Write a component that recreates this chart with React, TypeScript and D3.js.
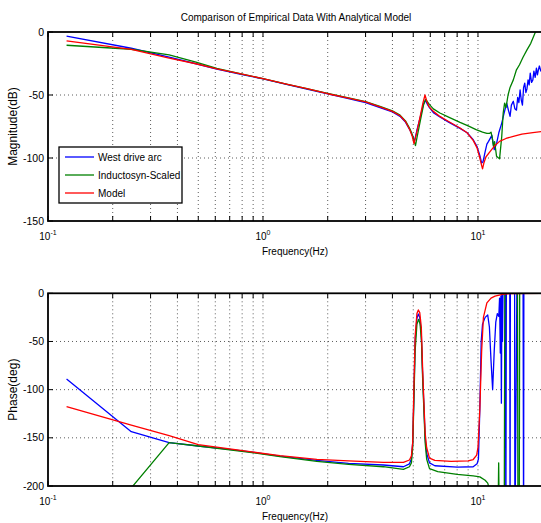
import * as d3 from 'd3';
import React, { useRef, useEffect } from 'react';

// magnitude (dB) vs frequency (Hz)
const magFreqWest = [0.122, 0.244, 0.366, 0.488, 0.61, 0.8, 1.0, 1.3, 1.6, 2.0, 2.5, 3.0, 3.5, 4.0, 4.34, 4.6, 4.83, 4.95, 5.06, 5.2, 5.4, 5.58, 5.7, 5.8, 5.95, 6.2, 6.65, 7.3, 8.25, 8.9, 9.5, 9.9, 10.2, 10.4, 10.55, 10.8, 11.0, 11.2, 11.6, 11.9, 12.2, 12.5, 12.9, 13.2, 13.6, 13.85, 14.1, 14.3, 14.6, 14.85, 15.1, 15.3, 15.5, 15.7, 15.9, 16.1, 16.3, 16.5, 16.7, 16.9, 17.1, 17.3, 17.5, 17.75, 18.0, 18.2, 18.45, 18.7, 18.9, 19.1, 19.3, 19.6, 20];
const magWest = [-3.2, -12.9, -20, -25.2, -29.5, -33.8, -37.2, -41.8, -45.3, -49.2, -52.8, -56, -60, -63.5, -67, -71.5, -78, -82, -87, -78, -67, -57, -54.3, -57, -60, -64, -67.5, -71.5, -76.5, -80, -85.5, -91, -98, -104, -103, -95, -89, -86.8, -82, -93.4, -88.6, -80, -72.3, -65, -56.4, -62, -67, -58, -55, -61, -62, -52, -56, -46, -54, -58, -44, -40.6, -48, -45, -38, -42, -32.7, -40, -38, -31, -36, -28.7, -34, -30, -27, -31, -28];

const magFreqInd = [0.122, 0.244, 0.366, 0.488, 0.61, 0.8, 1.0, 1.3, 1.6, 2.0, 2.5, 3.0, 3.5, 4.0, 4.34, 4.6, 4.83, 4.98, 5.12, 5.2, 5.4, 5.58, 5.7, 5.8, 5.95, 6.2, 6.65, 7.3, 8.25, 9.0, 9.8, 10.5, 11.0, 11.3, 11.5, 11.65, 11.8, 11.95, 12.2, 12.6, 12.9, 13.1, 13.3, 13.5, 13.8, 14.1, 14.6, 15.1, 15.6, 16.2, 16.9, 17.6, 18.4, 19.0, 20];
const magInd = [-10.5, -13.7, -18.2, -24, -28.8, -33.5, -37, -41.5, -45, -48.8, -52.2, -55.3, -59, -62.5, -66, -70.5, -77, -83, -90.2, -84, -70, -58, -53.6, -55, -57.6, -61, -64.3, -67.5, -71.7, -74.5, -77.5, -79.5, -80.5, -80.5, -79.5, -84, -90.7, -87, -98.6, -100.7, -82.8, -64.3, -56.4, -60, -50, -44, -38, -30, -26, -20, -14.2, -9, -1, 3, 10];

const magFreqModel = [0.122, 0.244, 0.366, 0.488, 0.61, 0.8, 1.0, 1.3, 1.6, 2.0, 2.5, 3.0, 3.5, 4.0, 4.34, 4.6, 4.83, 4.95, 5.04, 5.2, 5.4, 5.55, 5.67, 5.78, 5.9, 6.2, 6.65, 7.3, 8.25, 8.9, 9.5, 9.9, 10.2, 10.4, 10.5, 10.65, 10.9, 11.4, 12.0, 12.6, 13.5, 14.6, 16.0, 18.0, 20.0];
const magModel = [-7.1, -13.8, -20.8, -25.2, -29.3, -33.5, -37, -41.5, -45, -49, -52.5, -55.5, -59.5, -63, -66.5, -71, -78, -83, -88.6, -79, -66, -56, -50, -55, -59, -63, -67, -71, -76.2, -80, -86, -92, -100, -106, -108.6, -104, -99, -94.7, -90, -86.8, -84.5, -82.8, -81, -79.8, -79];

// phase (deg) vs frequency (Hz)
const phFreqWest = [0.122, 0.244, 0.366, 0.5, 0.7, 0.87, 1.2, 1.78, 2.5, 3.63, 4.5, 4.8, 4.9, 4.97, 5.03, 5.1, 5.2, 5.28, 5.36, 5.45, 5.53, 5.6, 5.68, 5.77, 5.95, 6.3, 8.0, 9.5, 9.9, 10.05, 10.2, 10.35, 10.5, 10.8, 11.1, 11.3, 11.5, 11.7, 11.9, 12.1, 12.3, 12.5, 12.6, 12.7, 12.78, 12.85, 12.92, 13.0, 13.08, 13.2, 13.4, 13.48, 13.56, 13.7, 14.05, 14.1, 14.15, 14.6, 14.8, 14.85, 15.2, 16.2, 16.3, 16.35, 20];
const phWest = [-89, -143.6, -155, -158.5, -162, -164.5, -169, -173.5, -176.5, -178.2, -180, -177, -172, -155, -110, -50, -26, -21.5, -25, -42, -85, -115, -150, -166, -176, -179, -180.5, -180, -177, -172, -120, -50, -32, -25, -22.5, -35, -70, -100, -60, -30, -21, -24, -5, -62, -3, -114, 0, -50, 5, 20, 30, -250, 40, 30, 30, -260, 30, 30, 25, -260, 30, 30, -260, 30, 35];

const phFreqInd = [0.122, 0.244, 0.366, 0.5, 0.7, 0.87, 1.2, 1.78, 2.5, 3.63, 4.5, 4.8, 4.9, 4.97, 5.03, 5.1, 5.2, 5.3, 5.38, 5.46, 5.53, 5.6, 5.68, 5.77, 5.95, 6.5, 8.0, 9.5, 10.2, 10.8, 11.1, 11.3, 11.5, 12.4, 12.48, 12.56, 13.25, 13.35, 15.25, 15.35, 15.55, 15.65, 20];
const phInd = [-300, -202, -155, -158.5, -162.5, -165, -169.5, -174.5, -177.5, -180, -182.7, -180, -176, -160, -115, -60, -32, -27, -32, -50, -90, -120, -155, -172, -182, -185, -188, -189.5, -190.5, -194, -197, -203, -215, -230, -176, -230, -230, 60, 60, -250, -250, 60, 60];

const phFreqModel = [0.122, 0.244, 0.366, 0.5, 0.7, 0.87, 1.2, 1.78, 2.5, 3.63, 4.5, 4.8, 4.9, 4.97, 5.02, 5.1, 5.2, 5.28, 5.36, 5.45, 5.53, 5.6, 5.68, 5.77, 5.95, 6.3, 7.5, 9.0, 9.5, 9.86, 10.0, 10.2, 10.4, 10.6, 11.0, 11.5, 12.0, 13.0, 14.0, 20];
const phModel = [-117.7, -136.7, -147.8, -157, -161.5, -164.4, -168.5, -172.3, -174, -175.4, -175.5, -173, -169, -155, -110, -45, -21, -17.3, -20, -35, -80, -112, -145, -160, -171, -173.5, -174.5, -174, -172.5, -168, -160, -120, -60, -25, -10, -5, -3, -1.2, -0.4, 0];

const seriesNames = ['West drive arc', 'Inductosyn-Scaled', 'Model'];
const seriesColors = ['#0000ff', '#008000', '#ff0000'];
const magTicks = [0, -50, -100, -150];
const phTicks = [0, -50, -100, -150, -200];
const decadeTicks = [0.1, 1, 10];
const decadeLabels = ['-1', '0', '1'];

const FONT = '"Liberation Sans", Arial, Helvetica, sans-serif';

function Bode() {
    const ref = useRef<SVGSVGElement>(null);

    useEffect(() => {
        const svg = d3.select(ref.current);
        svg.selectAll('*').remove();

        const x = d3.scaleLog().domain([0.1, 20]).range([48, 542.7]);
        const yMag = d3.scaleLinear().domain([-150, 0]).range([221, 32]);
        const yPh = d3.scaleLinear().domain([-200, 0]).range([486, 293.3]);

        // every minor/major log tick inside the domain
        const xTicks: number[] = [];
        decadeTicks.forEach(d => {
            for (let k = 1; k <= 9; k++) {
                const v = d * k;
                if (v <= 20.0001) xTicks.push(v);
            }
        });

        const zip = (f: number[], v: number[]) => f.map((d, i) => [d, v[i]]);

        const panel = (y: any, yTicks: number[], ylabel: string, data: number[][][], id: string) => {
            const [yb, yt] = y.range();
            const [xl, xr] = x.range();
            const g = svg.append('g');

            g.append('clipPath').attr('id', id)
                .append('rect').attr('x', xl).attr('y', yt).attr('width', xr - xl).attr('height', yb - yt);

            // grid
            g.selectAll('.gx').data(xTicks.filter(v => v > 0.1))
                .enter().append('line')
                .attr('x1', d => x(d)).attr('x2', d => x(d))
                .attr('y1', yt).attr('y2', yb)
                .attr('stroke', '#333').attr('stroke-width', 0.8).attr('stroke-dasharray', '1,3');
            g.selectAll('.gy').data(yTicks.slice(1, -1))
                .enter().append('line')
                .attr('x1', xl).attr('x2', xr)
                .attr('y1', d => y(d)).attr('y2', d => y(d))
                .attr('stroke', '#333').attr('stroke-width', 0.8).attr('stroke-dasharray', '1,3');

            // curves
            const line = d3.line<number[]>().x(d => x(d[0])).y(d => y(d[1]));
            g.append('g').attr('clip-path', `url(#${id})`)
                .selectAll('path').data(data)
                .enter().append('path')
                .attr('d', d => line(d))
                .attr('fill', 'none')
                .attr('stroke', (d, i) => seriesColors[i])
                .attr('stroke-width', 1.3)
                .attr('stroke-linejoin', 'round');

            // frame + inward ticks
            g.append('rect').attr('x', xl).attr('y', yt).attr('width', xr - xl).attr('height', yb - yt)
                .attr('fill', 'none').attr('stroke', '#000').attr('stroke-width', 1.8);
            xTicks.forEach(v => {
                g.append('line').attr('x1', x(v)).attr('x2', x(v)).attr('y1', yb).attr('y2', yb - 5).attr('stroke', '#000');
                g.append('line').attr('x1', x(v)).attr('x2', x(v)).attr('y1', yt).attr('y2', yt + 5).attr('stroke', '#000');
            });
            yTicks.forEach(v => {
                g.append('line').attr('x1', xl).attr('x2', xl + 5).attr('y1', y(v)).attr('y2', y(v)).attr('stroke', '#000');
            });

            // tick labels
            g.selectAll('.yl').data(yTicks).enter().append('text')
                .attr('x', 44).attr('y', d => y(d) + 3.6)
                .attr('text-anchor', 'end')
                .style('font-family', FONT).style('font-size', '10.5px')
                .text(d => String(d));
            decadeTicks.forEach((v, i) => {
                const t = g.append('text')
                    .attr('x', x(v)).attr('y', yb + 18.5)
                    .attr('text-anchor', 'middle')
                    .style('font-family', FONT).style('font-size', '10px');
                t.append('tspan').text('10');
                t.append('tspan').attr('dy', -5).style('font-size', '7px').text(decadeLabels[i]);
            });

            // axis labels
            g.append('text')
                .attr('x', 295).attr('y', yb + 33.5)
                .attr('text-anchor', 'middle')
                .style('font-family', FONT).style('font-size', '10px')
                .text('Frequency(Hz)');
            g.append('text')
                .attr('transform', `translate(17,${(yt + yb) / 2}) rotate(-90)`)
                .attr('text-anchor', 'middle')
                .style('font-family', FONT).style('font-size', '12px')
                .text(ylabel);
        };

        panel(yMag, magTicks, 'Magnitude(dB)',
            [zip(magFreqWest, magWest), zip(magFreqInd, magInd), zip(magFreqModel, magModel)], 'clipMag');
        panel(yPh, phTicks, 'Phase(deg)',
            [zip(phFreqWest, phWest), zip(phFreqInd, phInd), zip(phFreqModel, phModel)], 'clipPh');

        // title
        svg.append('text')
            .attr('x', 296).attr('y', 21)
            .attr('text-anchor', 'middle')
            .style('font-family', FONT).style('font-size', '10px')
            .text('Comparison of Empirical Data With Analytical Model');

        // legend
        const lg = svg.append('g');
        lg.append('rect').attr('x', 59).attr('y', 147).attr('width', 123).attr('height', 56)
            .attr('fill', '#fff').attr('stroke', '#000').attr('stroke-width', 1.3);
        seriesNames.forEach((name, i) => {
            const yy = 157 + i * 18;
            lg.append('line').attr('x1', 65).attr('x2', 94).attr('y1', yy).attr('y2', yy)
                .attr('stroke', seriesColors[i]).attr('stroke-width', 1.3);
            lg.append('text').attr('x', 98).attr('y', yy + 3.5)
                .style('font-family', FONT).style('font-size', '10px')
                .text(name);
        });
    }, []);

    return (
        <svg ref={ref} width={541} height={523}
            style={{ position: 'absolute', left: 0, top: 0, background: '#fff' }} />
    );
}

export default function App() {
    return <Bode />;
}
